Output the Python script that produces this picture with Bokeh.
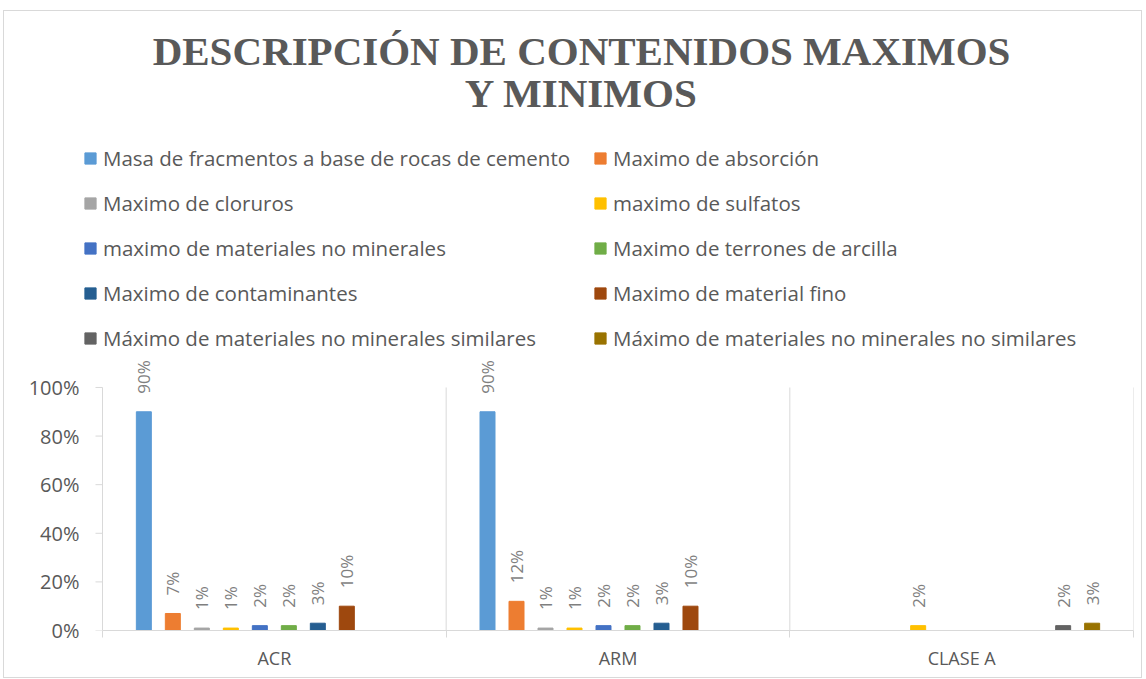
import math
from bokeh.plotting import figure
from bokeh.models import (ColumnDataSource, Range1d, FixedTicker, Legend, LegendItem, Label)
from bokeh.transform import dodge
from bokeh.core.properties import value
from bokeh.embed import file_html
from bokeh.resources import INLINE

# ---------------- data ----------------
categories = ["ACR", "ARM", "CLASE A"]
series_names = [
    "Masa de fracmentos a base de rocas de cemento",
    "Maximo de absorción",
    "Maximo de cloruros",
    "maximo de sulfatos",
    "maximo de materiales no minerales",
    "Maximo de terrones de arcilla",
    "Maximo de contaminantes",
    "Maximo de material fino",
    "Máximo de materiales no minerales similares",
    "Máximo de materiales no minerales no similares",
]
acr = [90, 7, 1, 1, 2, 2, 3, 10, None, None]
arm = [90, 12, 1, 1, 2, 2, 3, 10, None, None]
clase_a = [None, None, None, 2, None, None, None, None, 2, 3]
y_ticks = [0, 20, 40, 60, 80, 100]
title_lines = ["DESCRIPCIÓN DE CONTENIDOS MAXIMOS", "Y MINIMOS"]

colors = ["#5B9BD5", "#ED7D31", "#A5A5A5", "#FFC000", "#4472C4",
          "#70AD47", "#255E91", "#9E480E", "#636363", "#997300"]

# ---------------- figure ----------------
CAT_PX = 343.7          # pixels per category
X0 = -22 / CAT_PX       # a little room left of the value axis for the legend swatches
W, H = 1139, 668
p = figure(width=W, height=H, output_backend="svg", toolbar_location=None,
           x_range=Range1d(X0, len(categories)), y_range=Range1d(0, 254.7),
           min_border_left=76, min_border_right=10, min_border_top=0,
           min_border_bottom=49, outline_line_color=None,
           background_fill_color="white", border_fill_color="white",
           styles={"border": "1px solid #d9d9d9", "margin-left": "3px", "margin-top": "10px"})
p.xgrid.visible = False
p.ygrid.visible = False

TXT = "#595959"
AX = "#d9d9d9"
FONT = "Open Sans"

# y axis (labels from the axis, line and ticks drawn at x=0)
p.yaxis.ticker = FixedTicker(ticks=y_ticks)
p.yaxis.major_label_overrides = {t: f"{t}%" for t in y_ticks}
p.yaxis.axis_line_color = None
p.yaxis.major_tick_line_color = None
p.yaxis.major_tick_out = 0
p.yaxis.major_tick_in = 0
p.yaxis.minor_tick_line_color = None
p.yaxis.major_label_text_font = FONT
p.yaxis.major_label_text_font_size = "20px"
p.yaxis.major_label_text_color = TXT
p.yaxis.major_label_standoff = 1
tick_len = 7 / CAT_PX
p.segment(x0=[0], y0=[y_ticks[0]], x1=[0], y1=[y_ticks[-1]], line_color=AX, line_width=1)
p.segment(x0=[-tick_len] * len(y_ticks), y0=y_ticks, x1=[0] * len(y_ticks), y1=y_ticks,
          line_color=AX, line_width=1)

# x axis: labels at category centers, tick marks at category boundaries
centers = [i + 0.5 for i in range(len(categories))]
bounds = list(range(len(categories) + 1))
p.xaxis.ticker = FixedTicker(ticks=centers, minor_ticks=bounds)
p.xaxis.major_label_overrides = {c: name for c, name in zip(centers, categories)}
p.xaxis.bounds = (0, len(categories))
p.xaxis.axis_line_color = AX
p.xaxis.major_tick_line_color = None
p.xaxis.minor_tick_line_color = AX
p.xaxis.minor_tick_out = 7
p.xaxis.minor_tick_in = 0
p.xaxis.major_label_text_font = FONT
p.xaxis.major_label_text_font_size = "18px"
p.xaxis.major_label_text_color = TXT
p.xaxis.major_label_standoff = 8

# category separators
p.segment(x0=bounds[1:], y0=0, x1=bounds[1:], y1=100, line_color=AX, line_width=1)

# bars
step = 29 / CAT_PX
bar_w = 15 / CAT_PX
n = len(series_names)
per_cat = [acr, arm, clase_a]
items_left, items_right = [], []
for i, name in enumerate(series_names):
    xs, tops, labels = [], [], []
    for c, vals in zip(centers, per_cat):
        v = vals[i]
        if v is not None:
            xs.append(c)
            tops.append(v)
            labels.append(f"{v}%")
    src = ColumnDataSource(dict(x=xs, top=tops, label=labels))
    off = (i - (n - 1) / 2) * step
    r = p.vbar(x=dodge("x", off), top="top", width=bar_w, bottom=0, source=src,
               fill_color=colors[i], line_color=colors[i])
    p.text(x=dodge("x", off), y="top", text="label", source=src, angle=math.pi / 2,
           text_align="left", text_baseline="middle", y_offset=-18,
           text_font=value(FONT), text_font_size="17px", text_color="#7f7f7f")
    (items_left if i % 2 == 0 else items_right).append(LegendItem(label=name, renderers=[r]))

def make_legend(items, loc):
    lg = Legend(items=items, location=loc, orientation="vertical",
                label_text_font=FONT, label_text_font_size="20.5px", label_text_color=TXT,
                glyph_width=14, glyph_height=14, label_standoff=6,
                label_height=26, spacing=17, padding=0, margin=0,
                border_line_color=None, background_fill_alpha=0)
    p.add_layout(lg, "center")

make_legend(items_left, (3, 278))
make_legend(items_right, (513, 278))

# title
for txt, yy in zip(title_lines, [580, 538]):
    p.add_layout(Label(x=501, y=yy, x_units="screen", y_units="screen", text=txt,
                       text_align="center", text_baseline="alphabetic",
                       text_font="Liberation Serif", text_font_style="bold",
                       text_font_size="41px", text_color=TXT))

open("out.html", "w").write(file_html(p, INLINE))
